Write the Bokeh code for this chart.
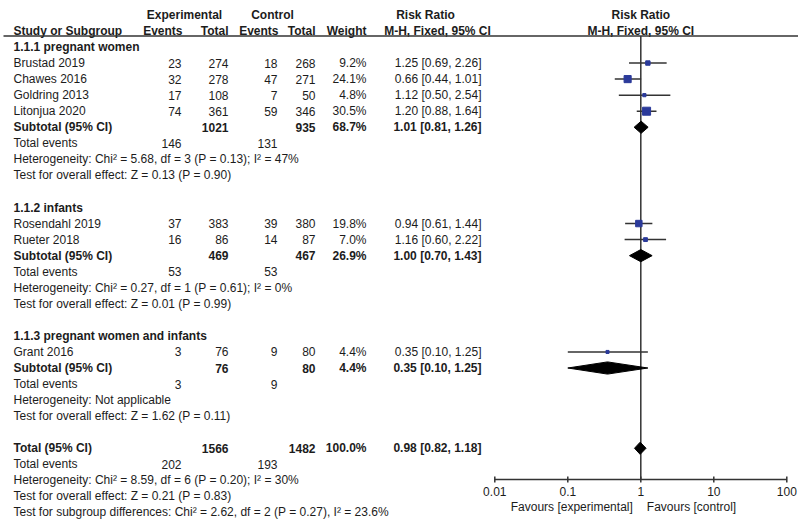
from bokeh.plotting import figure
from bokeh.models import Range1d, LogScale
from bokeh.core.properties import value
from bokeh.embed import file_html
from bokeh.resources import INLINE
import math

# ---------------- data ----------------
studies = ["Brustad 2019", "Chawes 2016", "Goldring 2013", "Litonjua 2020",
           "Rosendahl 2019", "Rueter 2018", "Grant 2016"]
exp_events = [23, 32, 17, 74, 37, 16, 3]
exp_total = [274, 278, 108, 361, 383, 86, 76]
ctl_events = [18, 47, 7, 59, 39, 14, 9]
ctl_total = [268, 271, 50, 346, 380, 87, 80]
weight = [9.2, 24.1, 4.8, 30.5, 19.8, 7.0, 4.4]
rr = [1.25, 0.66, 1.12, 1.20, 0.94, 1.16, 0.35]
rr_lo = [0.69, 0.44, 0.50, 0.88, 0.61, 0.60, 0.10]
rr_hi = [2.26, 1.01, 2.54, 1.64, 1.44, 2.22, 1.25]

groups = ["1.1.1 pregnant women", "1.1.2 infants", "1.1.3 pregnant women and infants"]
sub_exp_total = [1021, 469, 76]
sub_ctl_total = [935, 467, 80]
sub_weight = [68.7, 26.9, 4.4]
sub_rr = [1.01, 1.00, 0.35]
sub_lo = [0.81, 0.70, 0.10]
sub_hi = [1.26, 1.43, 1.25]
sub_exp_events = [146, 53, 3]
sub_ctl_events = [131, 53, 9]
sub_het = ["Heterogeneity: Chi\u00b2 = 5.68, df = 3 (P = 0.13); I\u00b2 = 47%",
           "Heterogeneity: Chi\u00b2 = 0.27, df = 1 (P = 0.61); I\u00b2 = 0%",
           "Heterogeneity: Not applicable"]
sub_effect = ["Test for overall effect: Z = 0.13 (P = 0.90)",
              "Test for overall effect: Z = 0.01 (P = 0.99)",
              "Test for overall effect: Z = 1.62 (P = 0.11)"]

tot_exp_total = 1566
tot_ctl_total = 1482
tot_weight = 100.0
tot_rr, tot_lo, tot_hi = 0.98, 0.82, 1.18
tot_exp_events = 202
tot_ctl_events = 193
tot_het = "Heterogeneity: Chi\u00b2 = 8.59, df = 6 (P = 0.20); I\u00b2 = 30%"
tot_effect = "Test for overall effect: Z = 0.21 (P = 0.83)"
subgroup_diff = "Test for subgroup differences: Chi\u00b2 = 2.62, df = 2 (P = 0.27), I\u00b2 = 23.6%"

axis_ticks = [0.01, 0.1, 1, 10, 100]
axis_tick_labels = ["0.01", "0.1", "1", "10", "100"]
favours = ["Favours [experimental]", "Favours [control]"]

# ---------------- layout rows ----------------
study_rows = [1, 2, 3, 4, 11, 12, 19]
group_rows = [0, 10, 18]
subtotal_rows = [5, 13, 20]
te_rows = [6, 14, 21]
het_rows = [7, 15, 22]
eff_rows = [8, 16, 23]
total_row, total_te_row, total_het_row, total_eff_row, diff_row = 25, 26, 27, 28, 29

FONT = "Liberation Sans"
FS = "12px"
TXT = "#1c1c1c"
LINE = "#333333"
BLUE = "#2B3A9A"

W, HGT = 798, 521
Y0, DY = 46.5, 16.05


def rrow(y):
    return (y - Y0) / DY


def fmt_ci(e, l, h):
    return f"{e:.2f} [{l:.2f}, {h:.2f}]"


# column anchors (px)
X_STUDY, X_EEV, X_ETOT, X_CEV, X_CTOT, X_W, X_RR = 13, 181, 228, 277, 315, 366, 481

# log scale for forest panel, mapped across the whole frame
PX_PER_DEC = 73.0
X_ONE = 640.3
log_start = 10 ** (-X_ONE / PX_PER_DEC)
log_end = 10 ** ((W - X_ONE) / PX_PER_DEC)

p = figure(width=W, height=HGT, x_range=Range1d(0, W),
           y_range=Range1d(rrow(HGT), rrow(0)),
           x_axis_location=None, y_axis_location=None,
           output_backend="svg", toolbar_location=None, min_border=0,
           outline_line_color=None)
p.grid.visible = False
p.extra_x_ranges = {"rr": Range1d(log_start, log_end)}
p.extra_x_scales = {"rr": LogScale()}


def put(xs, ys, texts, align="left", bold=False, rng="default"):
    p.text(x=xs, y=ys, text=texts, text_font=value(FONT), text_font_size=value(FS),
           text_align=align, text_baseline="middle", text_color=TXT,
           text_font_style="bold" if bold else "normal", x_range_name=rng)


# ---------- table ----------
put([184, 272], [-2, -2], ["Experimental", "Control"], "center", True)
put([425], [-2], ["Risk Ratio"], "center", True)
put([X_STUDY], [-1], ["Study or Subgroup"], "left", True)
put([X_EEV + 1, X_ETOT, X_CEV + 1, X_CTOT, X_W], [-1] * 5,
    ["Events", "Total", "Events", "Total", "Weight"], "right", True)
put([437], [-1], ["M-H, Fixed, 95% CI"], "center", True)
p.segment(x0=[3], x1=[W], y0=[rrow(35.5)], y1=[rrow(35.5)], line_color=LINE, line_width=1.5)

put([X_STUDY] * 3, group_rows, groups, "left", True)
put([X_STUDY] * len(studies), study_rows, studies, "left")
put([X_EEV] * 7, study_rows, [str(v) for v in exp_events], "right")
put([X_ETOT] * 7, study_rows, [str(v) for v in exp_total], "right")
put([X_CEV] * 7, study_rows, [str(v) for v in ctl_events], "right")
put([X_CTOT] * 7, study_rows, [str(v) for v in ctl_total], "right")
put([X_W] * 7, study_rows, [f"{w:.1f}%" for w in weight], "right")
put([X_RR] * 7, study_rows, [fmt_ci(e, l, h) for e, l, h in zip(rr, rr_lo, rr_hi)], "right")

put([X_STUDY] * 3, subtotal_rows, ["Subtotal (95% CI)"] * 3, "left", True)
put([X_ETOT] * 3, subtotal_rows, [str(v) for v in sub_exp_total], "right", True)
put([X_CTOT] * 3, subtotal_rows, [str(v) for v in sub_ctl_total], "right", True)
put([X_W] * 3, subtotal_rows, [f"{w:.1f}%" for w in sub_weight], "right", True)
put([X_RR] * 3, subtotal_rows,
    [fmt_ci(e, l, h) for e, l, h in zip(sub_rr, sub_lo, sub_hi)], "right", True)
put([X_STUDY] * 3, te_rows, ["Total events"] * 3, "left")
put([X_EEV] * 3, te_rows, [str(v) for v in sub_exp_events], "right")
put([X_CEV] * 3, te_rows, [str(v) for v in sub_ctl_events], "right")
put([X_STUDY] * 3, het_rows, sub_het, "left")
put([X_STUDY] * 3, eff_rows, sub_effect, "left")

put([X_STUDY], [total_row], ["Total (95% CI)"], "left", True)
put([X_ETOT, X_CTOT, X_W, X_RR], [total_row] * 4,
    [str(tot_exp_total), str(tot_ctl_total), f"{tot_weight:.1f}%",
     fmt_ci(tot_rr, tot_lo, tot_hi)], "right", True)
put([X_STUDY], [total_te_row], ["Total events"], "left")
put([X_EEV, X_CEV], [total_te_row] * 2, [str(tot_exp_events), str(tot_ctl_events)], "right")
put([X_STUDY] * 3, [total_het_row, total_eff_row, diff_row],
    [tot_het, tot_effect, subgroup_diff], "left")

# ---------- forest panel (log scale) ----------
AXIS_ROW = rrow(479)
TICK = 3.0 / DY

put([1], [-2], ["Risk Ratio"], "center", True, "rr")
put([1], [-1], ["M-H, Fixed, 95% CI"], "center", True, "rr")

# line of no effect
p.segment(x0=[1], x1=[1], y0=[rrow(35.5)], y1=[AXIS_ROW], line_color=LINE,
          line_width=1.5, x_range_name="rr")

# study CIs and squares
p.segment(x0=rr_lo, x1=rr_hi, y0=study_rows, y1=study_rows, line_color=LINE,
          line_width=1.5, x_range_name="rr")
p.scatter(x=rr, y=study_rows, marker="square",
          size=[1.45 * math.sqrt(w) for w in weight],
          fill_color=BLUE, line_color=BLUE, x_range_name="rr")

# pooled diamonds
H = 0.38
d_rows = subtotal_rows + [total_row]
d_est = sub_rr + [tot_rr]
d_lo = sub_lo + [tot_lo]
d_hi = sub_hi + [tot_hi]
p.patches(xs=[[l, e, h, e] for e, l, h in zip(d_est, d_lo, d_hi)],
          ys=[[r, r - H, r, r + H] for r in d_rows],
          fill_color="black", line_color="black", line_width=1, x_range_name="rr")

# log axis
p.segment(x0=[axis_ticks[0]], x1=[axis_ticks[-1]], y0=[AXIS_ROW], y1=[AXIS_ROW],
          line_color=LINE, line_width=1.5, x_range_name="rr")
p.segment(x0=axis_ticks, x1=axis_ticks, y0=[AXIS_ROW - TICK] * 5, y1=[AXIS_ROW + TICK] * 5,
          line_color=LINE, line_width=1.5, x_range_name="rr")
put(axis_ticks, [rrow(491)] * 5, axis_tick_labels, "center", False, "rr")
p.text(x=[1, 1], y=[rrow(506)] * 2, text=favours, x_offset=[-8, 6],
       text_align=["right", "left"], text_baseline="middle",
       text_font=value(FONT), text_font_size=value(FS), text_color=TXT, x_range_name="rr")

open("out.html", "w").write(file_html(p, INLINE))
